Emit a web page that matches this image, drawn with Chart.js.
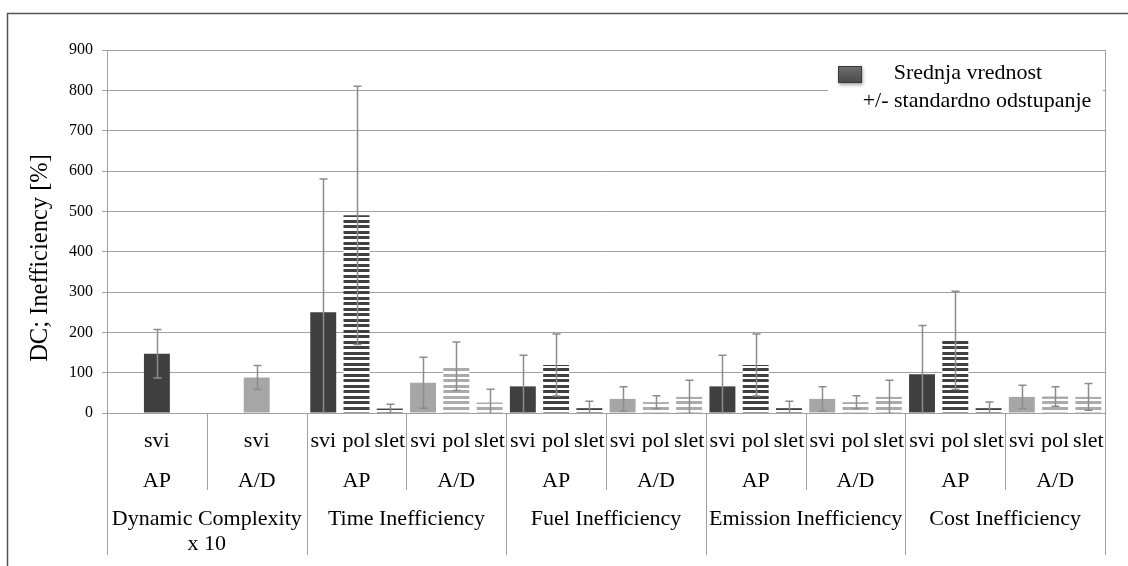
<!DOCTYPE html>
<html>
<head>
<meta charset="utf-8">
<script src="https://cdn.jsdelivr.net/npm/chart.js@4.4.1/dist/chart.umd.min.js"></script>
<style>
  body { margin: 0; background: #fff; }
  #wrap { width: 1128px; height: 566px; position: relative; }
</style>
</head>
<body>
<div id="wrap"><canvas id="myBarChart"></canvas></div>
<script>
// lowest label row, one entry per bar slot (DC groups only use the middle slot)
const barLabels = [
    '', 'svi', '',   '', 'svi', '',
    'svi', 'pol', 'slet',   'svi', 'pol', 'slet',
    'svi', 'pol', 'slet',   'svi', 'pol', 'slet',
    'svi', 'pol', 'slet',   'svi', 'pol', 'slet',
    'svi', 'pol', 'slet',   'svi', 'pol', 'slet'
];
const subgroupLabels = ['AP', 'A/D', 'AP', 'A/D', 'AP', 'A/D', 'AP', 'A/D', 'AP', 'A/D'];
const groupLabels = [
    ['Dynamic Complexity', 'x 10'],
    ['Time Inefficiency'],
    ['Fuel Inefficiency'],
    ['Emission Inefficiency'],
    ['Cost Inefficiency']
];

// mean values (Srednja vrednost)
const meanValues = [
    null, 147, null,   null, 88, null,
    250, 490, 11,   75, 116, 26,
    66, 119, 12,    35, 27, 40,
    66, 119, 12,    35, 27, 40,
    96, 180, 12,    40, 41, 40
];
// standard deviation (+/- standardno odstupanje)
const stdValues = [
    null, 60, null,   null, 30, null,
    330, 320, 11,   63, 60, 33,
    77, 77, 17,     30, 16, 41,
    77, 77, 17,     30, 16, 41,
    121, 122, 15,   29, 24, 33
];

const yMin = 0, yMax = 900, yStep = 100;
const yTitle = 'DC; Inefficiency [%]';
const legendLines = ['Srednja vrednost', '+/- standardno odstupanje'];

const serif = "'Liberation Serif', 'Times New Roman', serif";
Chart.defaults.font.family = serif;
Chart.defaults.color = '#000';

function stripes(color) {
    const c = document.createElement('canvas');
    c.width = 4;
    c.height = 11;
    const g = c.getContext('2d');
    g.fillStyle = '#fff';
    g.fillRect(0, 0, 4, 11);
    g.fillStyle = color;
    g.fillRect(0, 0, 4, 3);
    g.fillRect(0, 5, 4, 3);
    return g.createPattern(c, 'repeat');
}

const darkFill = '#404040';
const lightFill = '#a6a6a6';
const darkStripes = stripes('#404040');
const lightStripes = stripes('#ababab');

const barColors = barLabels.map((lab, i) => {
    const ap = subgroupLabels[Math.floor(i / 3)] === 'AP';
    if (lab === 'svi') return ap ? darkFill : lightFill;
    return ap ? darkStripes : lightStripes;
});

const lineGray = '#a0a0a0';

// outer frame (top + left edge of the figure)
const frame = {
    id: 'frame',
    beforeDraw(chart) {
        const ctx = chart.ctx;
        ctx.save();
        ctx.strokeStyle = '#555';
        ctx.lineWidth = 1.5;
        ctx.beginPath();
        ctx.moveTo(7.5, chart.height);
        ctx.lineTo(7.5, 13.5);
        ctx.lineTo(chart.width, 13.5);
        ctx.stroke();
        ctx.restore();
    }
};

const errorBars = {
    id: 'errorBars',
    afterDatasetsDraw(chart) {
        const {ctx, chartArea: a, scales: {y}} = chart;
        const meta = chart.getDatasetMeta(0);
        ctx.save();
        ctx.beginPath();
        ctx.rect(a.left, a.top - 2, a.width, a.height + 2);
        ctx.clip();
        ctx.strokeStyle = '#8c8c8c';
        ctx.lineWidth = 1.5;
        meta.data.forEach((bar, i) => {
            if (meanValues[i] == null) return;
            const top = y.getPixelForValue(meanValues[i] + stdValues[i]);
            const bot = y.getPixelForValue(meanValues[i] - stdValues[i]);
            const cx = Math.round(bar.x) + 0.5;
            ctx.beginPath();
            ctx.moveTo(cx, top);
            ctx.lineTo(cx, bot);
            ctx.moveTo(cx - 4, top);
            ctx.lineTo(cx + 4, top);
            ctx.moveTo(cx - 4, bot);
            ctx.lineTo(cx + 4, bot);
            ctx.stroke();
        });
        ctx.restore();
    }
};

const categoryTable = {
    id: 'categoryTable',
    afterDraw(chart) {
        const {ctx, chartArea: a, scales: {x}} = chart;
        const n = barLabels.length;
        const edge = i => i === 0 ? a.left : i === n ? a.right
            : (x.getPixelForValue(i - 1) + x.getPixelForValue(i)) / 2;
        const line = (px, y0, y1) => {
            const xx = Math.round(px) + 0.5;
            ctx.beginPath();
            ctx.moveTo(xx, y0);
            ctx.lineTo(xx, y1);
            ctx.stroke();
        };
        ctx.save();
        ctx.strokeStyle = lineGray;
        ctx.lineWidth = 1;
        line(a.left, a.bottom, a.bottom + 142);
        line(a.right, a.top, a.bottom + 142);
        for (let k = 1; k < subgroupLabels.length; k++) {
            line(edge(k * 3), a.bottom, k % 2 === 0 ? a.bottom + 142 : a.bottom + 77);
        }

        ctx.fillStyle = '#000';
        ctx.font = '22px ' + serif;
        ctx.textAlign = 'center';
        ctx.textBaseline = 'alphabetic';
        barLabels.forEach((lab, i) => {
            if (lab) ctx.fillText(lab, x.getPixelForValue(i), a.bottom + 34);
        });
        subgroupLabels.forEach((lab, k) => {
            ctx.fillText(lab, (edge(k * 3) + edge(k * 3 + 3)) / 2, a.bottom + 74);
        });
        groupLabels.forEach((lines, g) => {
            const cx = (edge(g * 6) + edge(g * 6 + 6)) / 2;
            lines.forEach((t, j) => ctx.fillText(t, cx, a.bottom + 112 + j * 25));
        });

        // y axis title
        ctx.font = '24.5px ' + serif;
        ctx.translate(41, 258);
        ctx.rotate(-Math.PI / 2);
        ctx.textBaseline = 'middle';
        ctx.fillText(yTitle, 0, 0);
        ctx.restore();
    }
};

const legendBox = {
    id: 'legendBox',
    afterDraw(chart) {
        const ctx = chart.ctx;
        ctx.save();
        ctx.fillStyle = '#fff';
        ctx.fillRect(828, 56, 275, 68);

        // marker
        ctx.shadowColor = 'rgba(0,0,0,0.35)';
        ctx.shadowBlur = 3;
        ctx.shadowOffsetX = 1;
        ctx.shadowOffsetY = 2;
        const grad = ctx.createLinearGradient(0, 66, 0, 83);
        grad.addColorStop(0, '#6e6e6e');
        grad.addColorStop(1, '#4a4a4a');
        ctx.fillStyle = grad;
        ctx.fillRect(838, 66, 24, 17);
        ctx.shadowColor = 'transparent';
        ctx.strokeStyle = '#3a3a3a';
        ctx.lineWidth = 1;
        ctx.strokeRect(838.5, 66.5, 23, 16);

        ctx.fillStyle = '#000';
        ctx.font = '22px ' + serif;
        ctx.textAlign = 'center';
        ctx.textBaseline = 'alphabetic';
        ctx.fillText(legendLines[0], 968, 79);
        ctx.fillText(legendLines[1], 977, 107);
        ctx.restore();
    }
};

let barChart;

function renderBarChart() {
    if (barChart) {
        barChart.destroy();
    }
    const ctx = document.getElementById('myBarChart').getContext('2d');
    barChart = new Chart(ctx, {
        type: 'bar',
        data: {
            labels: barLabels,
            datasets: [{
                label: legendLines[0],
                data: meanValues,
                backgroundColor: barColors,
                borderWidth: 0,
                barPercentage: 0.78,
                categoryPercentage: 1
            }]
        },
        options: {
            responsive: true,
            maintainAspectRatio: false,
            animation: false,
            layout: { padding: { top: 50, right: 23, bottom: 0, left: 0 } },
            plugins: {
                legend: { display: false },
                tooltip: { enabled: false }
            },
            scales: {
                x: {
                    ticks: { display: false },
                    grid: { display: false },
                    border: { display: false },
                    afterFit(scale) { scale.height = 153; }
                },
                y: {
                    min: yMin,
                    max: yMax,
                    ticks: { stepSize: yStep, padding: 9, font: { size: 16 }, color: '#000' },
                    grid: { color: lineGray, tickLength: 5 },
                    border: { color: lineGray },
                    afterFit(scale) { scale.width = 107; }
                }
            }
        },
        plugins: [frame, errorBars, categoryTable, legendBox]
    });
}

document.addEventListener('DOMContentLoaded', function () {
    renderBarChart();
});
</script>
</body>
</html>
